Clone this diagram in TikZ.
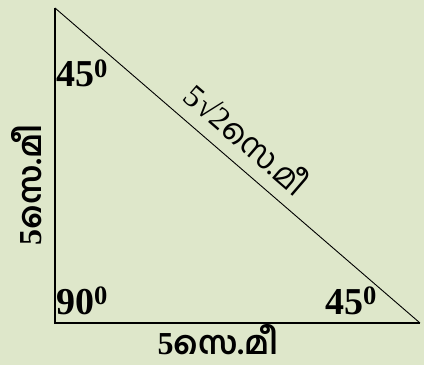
\documentclass[tikz,border=0pt]{standalone}
\usepackage{fontspec}
\setmainfont{Liberation Serif}
\newfontfamily\mlfont[Script=Malayalam]{Hind Kochi}
\usepackage{xcolor}
\definecolor{trianglebg}{RGB}{222, 231, 202}
\usetikzlibrary{calc,positioning}

\newcommand{\cm}{{\mlfont സെ.മീ}}

\begin{document}
\begin{tikzpicture}[x=1pt, y=1pt,
    anglelabel/.style={inner sep=0pt, font=\fontsize{38}{40}\selectfont\bfseries},
    sidelabel/.style={inner sep=0pt, font=\fontsize{32}{34}\selectfont}]
    % Background
    \fill[trianglebg] (0, 0) rectangle (424, 365);
    \useasboundingbox (0, 0) rectangle (424, 365);

    % Triangle corners
    \coordinate (A) at (55, 357);
    \coordinate (B) at (55, 42);
    \coordinate (C) at (420, 42);
    \draw[line width=1.2pt] (A) -- (B) -- (C);
    \draw[line width=0.9pt] (C) -- (A);

    % Angles
    \node[anglelabel, anchor=base west] (angA) at (56, 278) {45\textsuperscript{0}};
    \node[anglelabel, anchor=base west] (angB) at (56, 51) {90\textsuperscript{0}};
    \node[anglelabel, anchor=base west] (angC) at (325, 51) {45\textsuperscript{0}};

    % Sides
    \node[sidelabel, font=\fontsize{32}{34}\selectfont\bfseries, anchor=base] (sideBC) at (218, 10) {5\cm};
    \node[sidelabel, font=\fontsize{32}{34}\selectfont\bfseries, rotate=90] (sideAB) at (27, 180) {5\cm};
    \node[sidelabel, rotate=-40.8] (sideAC) at (248, 227) {5√2\cm};
\end{tikzpicture}
\end{document}
